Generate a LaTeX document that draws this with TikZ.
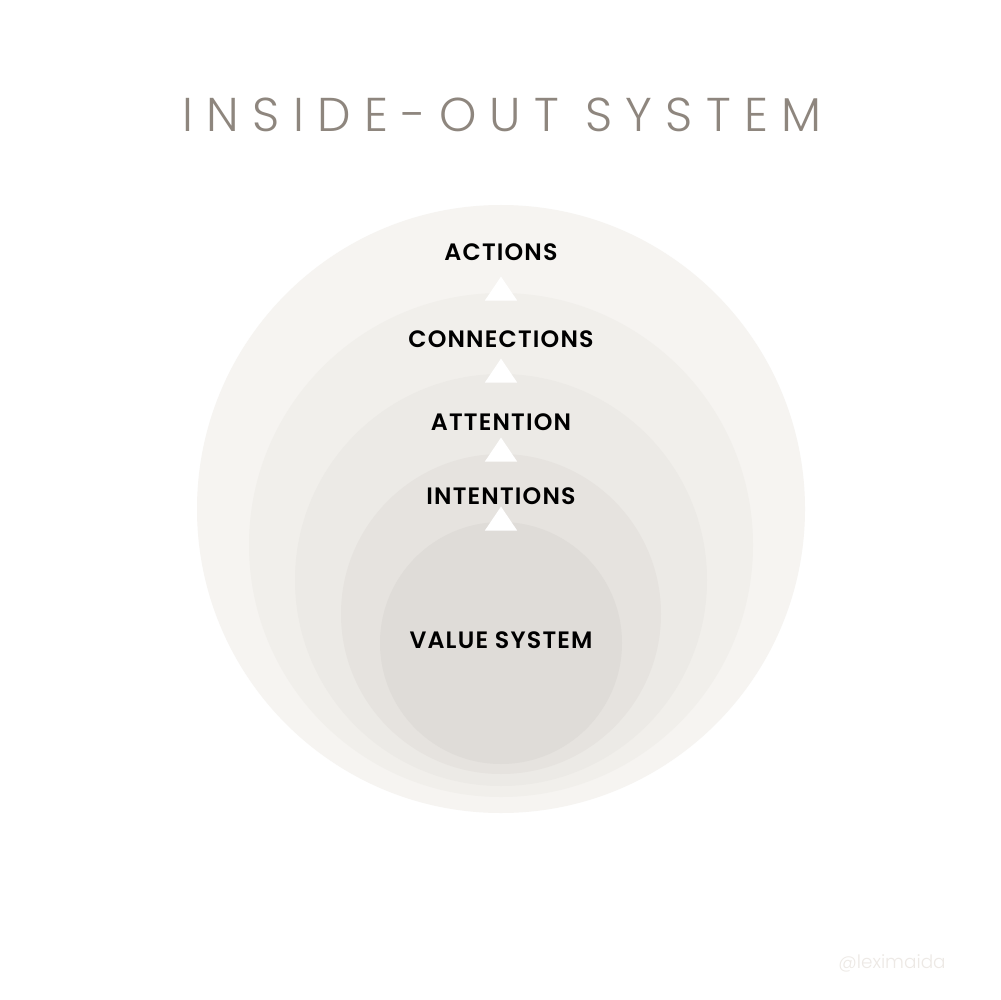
\documentclass[tikz,border=0pt]{standalone}
\usepackage{fontspec}
\setmainfont{Poppins}
\newfontfamily\labelfont{Poppins}[UprightFont=* SemiBold, LetterSpace=5]
\newfontfamily\titlefont{Poppins}[UprightFont=* Light, LetterSpace=28]
\newfontfamily\markfont{Poppins}[UprightFont=* Light]
\usepackage{xcolor}
\usetikzlibrary{shapes.geometric, positioning}

\definecolor{ringA}{HTML}{F6F4F1}
\definecolor{ringB}{HTML}{F1EFEB}
\definecolor{ringC}{HTML}{ECEAE6}
\definecolor{ringD}{HTML}{E6E3DF}
\definecolor{ringE}{HTML}{DFDCD8}
\definecolor{titlegrey}{HTML}{8E867E}
\definecolor{markgrey}{HTML}{EDE9E5}

\begin{document}
\begin{tikzpicture}[
x=0.02cm, y=-0.02cm,
    ring/.style={circle, inner sep=0pt, draw=none},
    layer/.style={font=\labelfont\fontsize{13.5}{15}\selectfont, text=black, inner sep=1pt},
    uparrow/.style={isosceles triangle, shape border rotate=90, isosceles triangle apex angle=68, fill=white, inner sep=0pt, minimum height=0.48cm}
]
    % --- Frame ---
    \fill[white] (0,0) rectangle (1000,1000);

    % --- Title ---
    \node[font=\titlefont\fontsize{27}{30}\selectfont, text=titlegrey] (title) at (502,115) {INSIDE-OUT SYSTEM};

    % --- Nested circles, outside in ---
    \node[ring, fill=ringA, minimum size=608*0.02cm] (outer) at (501,509) {};
    \node[ring, fill=ringB, minimum size=504*0.02cm] (second) at (501,545) {};
    \node[ring, fill=ringC, minimum size=412*0.02cm] (third) at (501,580) {};
    \node[ring, fill=ringD, minimum size=320*0.02cm] (fourth) at (501,614) {};
    \node[ring, fill=ringE, minimum size=242*0.02cm] (core) at (501,643) {};

    % --- Labels ---
    \node[layer] (actions) at (501,252) {ACTIONS};
    \node[layer] (connections) at (501,339) {CONNECTIONS};
    \node[layer] (attention) at (501,422) {ATTENTION};
    \node[layer] (intentions) at (501,496) {INTENTIONS};
    \node[layer] (values) at (501,640) {VALUE SYSTEM};

    % --- Arrows between layers ---
    \node[uparrow] (up1) at (501,292) {};
    \node[uparrow] (up2) at (501,374) {};
    \node[uparrow] (up3) at (501,453) {};
    \node[uparrow] (up4) at (501,522) {};

    % --- Signature ---
    \node[font=\markfont\fontsize{10.5}{12}\selectfont, text=markgrey] (mark) at (892,963) {@leximaida};

\end{tikzpicture}
\end{document}
